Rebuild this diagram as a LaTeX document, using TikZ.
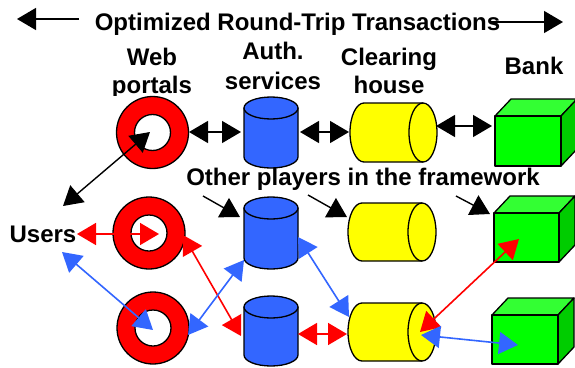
\documentclass[tikz,border=0pt]{standalone}
\usepackage{fontspec}
\setmainfont{Liberation Sans}
\usetikzlibrary{arrows.meta}
\definecolor{cred}{HTML}{FF0000}
\definecolor{cblue}{HTML}{3366FF}
\definecolor{cyel}{HTML}{FFFF00}
\definecolor{cgreen}{HTML}{00FF00}
\definecolor{cgtop}{HTML}{33FF33}
\definecolor{cgside}{HTML}{00CC00}
\tikzset{
  lab/.style={font=\bfseries\fontsize{24}{29}\selectfont,inner sep=0pt,anchor=base,align=center},
  outerring/.style={circle,draw=black,line width=1.3pt,fill=cred,minimum size=72pt,inner sep=0pt},
  innerring/.style={circle,draw=black,line width=1.3pt,fill=white,minimum size=36pt,inner sep=0pt},
  shapeline/.style={draw=black,line width=1.3pt,line join=round},
  hd/.tip={Triangle[length=19pt,width=22pt]},
  blk/.style={black,line width=1.4pt},
  rd/.style={cred,line width=1.6pt},
  bl/.style={cblue,line width=1.6pt},
  both/.style={{hd}-{hd}},
  one/.style={-{hd}},
}
% blue upright cylinder: name, cx, top, bottom
\newcommand{\bluecyl}[4]{%
  \path[shapeline,fill=cblue] (#2-27,#3+11) -- (#2-27,#4-11)
     arc[x radius=27,y radius=11,start angle=180,end angle=0]
     -- (#2+27,#3+11) -- cycle;
  \path[shapeline,fill=cblue] (#2,#3+11) ellipse[x radius=27,y radius=11];
  \node[inner sep=0pt,minimum width=54pt,minimum height=#4pt-#3pt] (#1) at (#2,{(#3+#4)/2}) {};
}
% yellow lying cylinder: name, left, right, top, bottom
\newcommand{\yelcyl}[5]{%
  \path[shapeline,fill=cyel] (#3-14,#4) -- (#2+14,#4)
     arc[x radius=14,y radius={(#5-#4)/2},start angle=270,end angle=90]
     -- (#3-14,#5) arc[x radius=14,y radius={(#5-#4)/2},start angle=90,end angle=-90] -- cycle;
  \path[shapeline] (#3-14,#4) arc[x radius=14,y radius={(#5-#4)/2},start angle=270,end angle=90];
  \node[inner sep=0pt,minimum width=#3pt-#2pt,minimum height=#5pt-#4pt] (#1) at ({(#2+#3)/2},{(#4+#5)/2}) {};
}
% green cube: name, left, right, top, bottom (front face)
\newcommand{\grcube}[5]{%
  \path[shapeline,fill=cgtop] (#2,#4) -- (#2+16,#4-17) -- (#3+16,#4-17) -- (#3,#4) -- cycle;
  \path[shapeline,fill=cgside] (#3,#4) -- (#3+16,#4-17) -- (#3+16,#5-17) -- (#3,#5) -- cycle;
  \path[shapeline,fill=cgreen] (#2,#4) rectangle (#3,#5);
  \node[inner sep=0pt,minimum width=#3pt-#2pt,minimum height=#5pt-#4pt] (#1) at ({(#2+#3)/2},{(#4+#5)/2}) {};
}
\begin{document}
\begin{tikzpicture}[x=1pt,y=-1pt]
\useasboundingbox (0,0) rectangle (575,367);
\path[fill=white] (0,0) rectangle (575,367);
% labels clipped as in the reference
\begin{scope}
  \clip (100,40) rectangle (200,95.5);
  \node[lab] (web) at (152,65) {Web};
  \node[lab] (portals) at (152,93) {portals};
\end{scope}
\node[lab] (auth) at (273,59) {Auth.};
\node[lab] (serv) at (273,89) {services};
\begin{scope}
  \clip (330,40) rectangle (450,93.5);
  \node[lab] (clear) at (389,65) {Clearing};
  \node[lab] (house) at (389,93) {house};
\end{scope}
\node[lab] (bank) at (534,74) {Bank};
% donuts
\node[outerring] (d1) at (152.5,132.5) {}; \node[innerring] (i1) at (152.5,132.5) {};
\node[outerring] (d2) at (149,233) {};     \node[innerring] (i2) at (149,233) {};
\node[outerring] (d3) at (153,328) {};     \node[innerring] (i3) at (153,328) {};
% cylinders and cubes
\bluecyl{a1}{271}{97}{168}
\bluecyl{a2}{271}{197}{269}
\bluecyl{a3}{271}{296}{366}
\yelcyl{c1}{350}{437}{103}{162}
\yelcyl{c2}{348}{436}{203}{261}
\yelcyl{c3}{348}{436}{303}{361}
\grcube{g1}{495}{561}{116}{166}
\grcube{g2}{494}{559}{213}{262}
\grcube{g3}{492}{558}{315}{364}
% texts
\node[lab] (title) at (297.5,30) {Optimized Round-Trip Transactions};
\node[lab] (other) at (363,185) {Other players in the framework};
\node[lab] (users) at (43,242) {Users};
% free ends
\coordinate (tl0) at (79,19);  \coordinate (tl1) at (17,19);
\coordinate (tr0) at (490,22); \coordinate (tr1) at (563,22);
\coordinate (o1s) at (203,196); \coordinate (o1e) at (240,217);
\coordinate (o2s) at (308,195); \coordinate (o2e) at (347,217);
\coordinate (o3s) at (456,196); \coordinate (o3e) at (490,214);
\coordinate (u1) at (63,206);  \coordinate (u2) at (77,234); \coordinate (u3) at (62,252);
\coordinate (p1) at (150,132); \coordinate (p2) at (159,234); \coordinate (p3) at (153,330);
\coordinate (ar1) at (189,132); \coordinate (al1) at (241,132);
\coordinate (ar2) at (300,132); \coordinate (cl1) at (349,132);
\coordinate (cr1) at (436,126); \coordinate (gl1) at (492,126);
\coordinate (dr2) at (183,235); \coordinate (al3) at (241,336);
\coordinate (dr3) at (188,335); \coordinate (al2) at (244,260);
\coordinate (ar2b) at (298,237); \coordinate (cl3) at (349,317);
\coordinate (ar3) at (298,334); \coordinate (cl3b) at (347,334);
\coordinate (c3r) at (420,332); \coordinate (g2i) at (519,239);
\coordinate (c3b) at (421,335); \coordinate (g3i) at (518,345);
% connectors
\draw[blk,one] (tl0) -- (tl1);
\draw[blk,one] (tr0) -- (tr1);
\draw[blk,both] (ar1) -- (al1);
\draw[blk,both] (ar2) -- (cl1);
\draw[blk,both] (cr1) -- (gl1);
\draw[blk,both] (u1) -- (p1);
\draw[blk,one] (o1s) -- (o1e);
\draw[blk,one] (o2s) -- (o2e);
\draw[blk,one] (o3s) -- (o3e);
\draw[rd,both] (u2) -- (p2);
\draw[bl,both] (u3) -- (p3);
\draw[rd,both] (dr2) -- (al3);
\draw[bl,both] (dr3) -- (al2);
\draw[bl,both] (ar2b) -- (cl3);
\draw[rd,both] (ar3) -- (cl3b);
\draw[rd,both] (c3r) -- (g2i);
\draw[bl,both] (c3b) -- (g3i);
\end{tikzpicture}
\end{document}
